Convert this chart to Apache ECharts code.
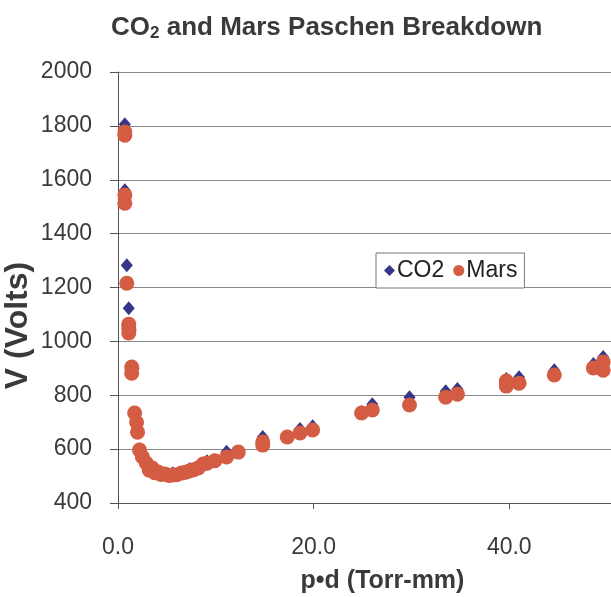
<!DOCTYPE html>
<html>
<head>
<meta charset="utf-8">
<script src="https://cdn.jsdelivr.net/npm/echarts@6/dist/echarts.min.js"></script>
<style>
  html, body { margin: 0; padding: 0; background: #fff; }
  #chart { width: 611px; height: 597px; }
</style>
</head>
<body>
<div id="chart"></div>
<script>
'use strict';
// Mars gas mix (p·d in Torr-mm, breakdown voltage in V)
var marsX = [0.7, 0.7, 0.7, 0.7, 0.9, 1.1, 1.1, 1.1, 1.4, 1.4, 1.7, 1.9, 2.0, 2.2, 2.5, 2.9, 3.2, 3.5, 3.8, 4.1,
    4.4, 4.8, 5.2, 5.6, 6.0, 6.5, 6.9, 7.3, 7.7, 8.2, 8.7, 9.1, 9.9, 11.1, 12.3, 14.8, 14.8, 17.3, 18.6,
    19.9, 24.9, 26.0, 29.8, 33.5, 34.7, 39.7, 39.7, 41.0, 44.6, 48.6, 49.6, 49.6];
var marsY = [1777, 1765, 1543, 1513, 1216, 1064, 1049, 1031, 905, 882, 734, 700, 663, 597, 571, 548, 522, 530, 512, 515,
    506, 508, 502, 504, 505, 511, 514, 519, 523, 530, 545, 548, 557, 571, 589, 615, 626, 645, 660,
    671, 734, 745, 764, 793, 804, 834, 853, 845, 875, 901, 893, 923];
// pure CO2
var co2X = [0.7, 0.7, 0.9, 1.1, 1.3, 1.6, 2.2, 2.9, 4.1, 5.6, 7.3, 9.1, 11.1, 14.8, 18.6, 19.9, 24.9, 26.0,
    29.8, 33.5, 34.7, 39.7, 41.0, 44.6, 48.6, 49.6];
var co2Y = [1806, 1561, 1283, 1123, 1040, 900, 600, 550, 515, 510, 525, 555, 590, 645, 675, 685, 738, 767,
    793, 815, 823, 860, 867, 893, 916, 942];
// axis ranges / ticks
var xRange = [0, 50.4];
var xStep = 20;
var yRange = [400, 2000];
var yStep = 200;

function pairs(xs, ys) {
    var out = [];
    for (var i = 0; i < xs.length; i++) {
        out.push([xs[i], ys[i]]);
    }
    return out;
}

var FONT = '"Liberation Sans", Arial, sans-serif';
var TXT = '#3a3a3a';

var chart = echarts.init(document.getElementById('chart'));
var option = {
    animation: false,
    backgroundColor: '#fff',
    title: {
        text: '{a|CO}{s|2}{a| and Mars Paschen Breakdown}',
        left: 106,
        top: 8,
        textStyle: {
            rich: {
                a: { fontFamily: FONT, fontWeight: 'bold', fontSize: 26, color: TXT },
                s: { fontFamily: FONT, fontWeight: 'bold', fontSize: 17, color: TXT, padding: [12, 0, 0, 0] }
            }
        }
    },
    legend: {
        left: 376,
        top: 253,
        padding: [6, 7, 6, 8],
        itemWidth: 11,
        itemHeight: 11,
        itemGap: 9,
        borderColor: '#777',
        borderWidth: 1,
        borderRadius: 0,
        backgroundColor: '#fff',
        textStyle: { fontFamily: FONT, fontSize: 23, color: '#222', padding: [0, 0, 0, -3] },
        data: [
            { name: 'CO2', icon: 'diamond' },
            { name: 'Mars', icon: 'circle' }
        ]
    },
    grid: {
        left: 118,
        right: 0,
        top: 72,
        bottom: 94,
        containLabel: false,
        outerBoundsMode: 'none'
    },
    xAxis: {
        type: 'value',
        min: xRange[0],
        max: xRange[1],
        interval: xStep,
        name: 'p•d (Torr-mm)',
        nameLocation: 'middle',
        nameGap: 66,
        nameMoveOverlap: false,
        nameTextStyle: { fontFamily: FONT, fontWeight: 'bold', fontSize: 25, color: TXT, padding: [0, 0, 0, 36] },
        axisLine: { onZero: false, lineStyle: { color: '#555', width: 1 } },
        axisTick: { show: true, inside: false, length: 6, lineStyle: { color: '#555' } },
        axisLabel: {
            fontFamily: FONT, fontSize: 23, color: TXT, margin: 33,
            showMaxLabel: false,
            formatter: function (v) { return v.toFixed(1); }
        },
        splitLine: { show: false }
    },
    yAxis: {
        type: 'value',
        min: yRange[0],
        max: yRange[1],
        interval: yStep,
        name: 'V (Volts)',
        nameLocation: 'middle',
        nameGap: 84,
        nameMoveOverlap: false,
        nameRotate: 90,
        nameTextStyle: { fontFamily: FONT, fontWeight: 'bold', fontSize: 32, color: TXT, padding: [0, 76, 0, 0] },
        axisLine: { show: true, lineStyle: { color: '#555', width: 1 } },
        axisTick: { show: true, inside: false, length: 8, lineStyle: { color: '#555' } },
        axisLabel: {
            fontFamily: FONT, fontSize: 23, color: TXT, margin: 26,
            formatter: function (v) { return String(v); }
        },
        splitLine: { show: true, lineStyle: { color: '#888', width: 1 } }
    },
    series: [{
            name: 'CO2',
            type: 'scatter',
            symbol: 'diamond',
            symbolSize: [12, 14],
            itemStyle: { color: '#363689', opacity: 1 },
            data: pairs(co2X, co2Y),
            z: 2
        },
        {
            name: 'Mars',
            type: 'scatter',
            symbol: 'circle',
            symbolSize: 15,
            itemStyle: { color: '#D35C43', opacity: 1 },
            data: pairs(marsX, marsY),
            z: 3
        }
    ]
};
chart.setOption(option);
</script>
</body>
</html>
